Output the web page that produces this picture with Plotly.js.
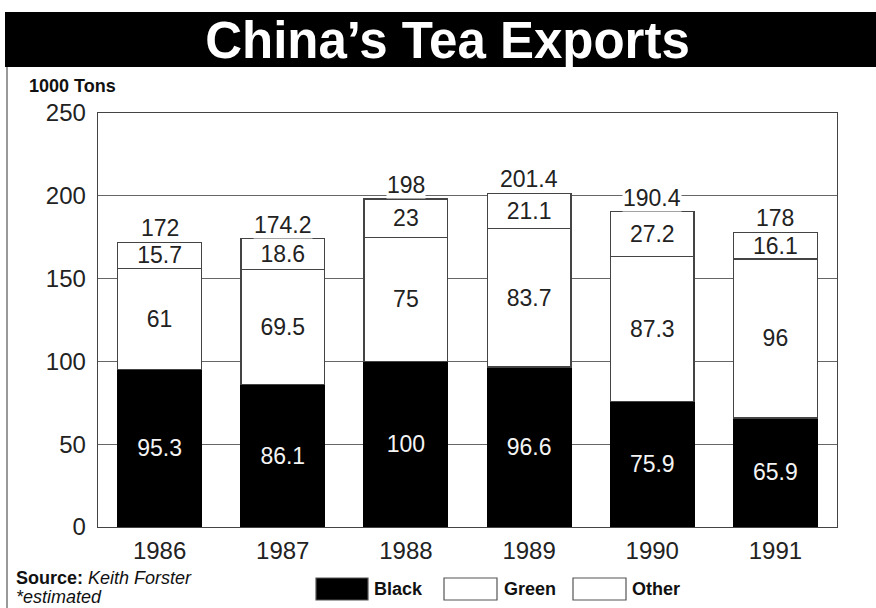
<!DOCTYPE html>
<html>
<head>
<meta charset="utf-8">
<script src="https://cdn.plot.ly/plotly-3.0.1.min.js"></script>
<style>html,body{margin:0;padding:0;background:#fff;}#chart{width:876px;height:608px;}</style>
</head>
<body>
<div id="chart"></div>
<script>
var years = ['1986', '1987', '1988', '1989', '1990', '1991'];
var black = [95.3, 86.1, 100, 96.6, 75.9, 65.9];
var green = [61, 69.5, 75, 83.7, 87.3, 96];
var other = [15.7, 18.6, 23, 21.1, 27.2, 16.1];
var totals = [172, 174.2, 198, 201.4, 190.4, 178];
var yTicks = [0, 50, 100, 150, 200, 250];

var FONT = '"Liberation Sans", Arial, Helvetica, sans-serif';
var NARROW = '"Liberation Sans Narrow", "Liberation Sans", Arial, sans-serif';
var TXT = '#222';

function barTrace(name, vals, fill, line, textColor) {
  return {
    type: 'bar', name: name, x: years, y: vals,
    text: vals.map(String), textposition: 'inside', insidetextanchor: 'middle',
    textangle: 0, constraintext: 'none',
    textfont: {family: FONT, size: 23, color: textColor},
    marker: {color: fill, line: {color: line, width: 1.3}},
    hoverinfo: 'x+y+name'
  };
}

var data = [
  barTrace('Black', black, '#000', '#000', '#f4f4f4'),
  barTrace('Green', green, '#fff', '#444', TXT),
  barTrace('Other', other, '#fff', '#444', TXT)
];

// totals above each stack (x given as category index)
var annotations = years.map(function (yr, i) {
  return {
    x: i, y: totals[i], xref: 'x', yref: 'y', text: String(totals[i]),
    showarrow: false, yanchor: 'bottom', yshift: 0, bgcolor: '#fff',
    borderpad: 0, font: {family: FONT, size: 23, color: TXT}
  };
});

// helpers for paper coordinates from the plot frame
var L = 98, R = 837, T = 113, B = 527;
function px(x) { return (x - L) / (R - L); }
function py(y) { return (B - y) / (B - T); }

annotations.push({
  xref: 'paper', yref: 'paper', x: px(27), y: py(86), xanchor: 'left', yanchor: 'middle',
  text: '<b>1000 Tons</b>', showarrow: false,
  font: {family: NARROW, size: 18, color: '#111'}
});
annotations.push({
  xref: 'paper', yref: 'paper', x: px(14), y: py(578), xanchor: 'left', yanchor: 'middle',
  text: '<b>Source:</b> <i>Keith Forster</i>', showarrow: false,
  font: {family: NARROW, size: 18, color: '#111'}
});
annotations.push({
  xref: 'paper', yref: 'paper', x: px(14), y: py(597), xanchor: 'left', yanchor: 'middle',
  text: '<i>*estimated</i>', showarrow: false,
  font: {family: NARROW, size: 18, color: '#111'}
});

var legendItems = [
  {name: 'Black', fill: '#000', x0: 316, x1: 368, tx: 372},
  {name: 'Green', fill: '#fff', x0: 444, x1: 497, tx: 502},
  {name: 'Other', fill: '#fff', x0: 573, x1: 626, tx: 630}
];

var shapes = [
  {type: 'rect', xref: 'paper', yref: 'paper', x0: px(5), x1: px(876), y0: py(67), y1: py(12),
   fillcolor: '#000', line: {width: 0}, layer: 'below'},
  {type: 'line', xref: 'paper', yref: 'paper', x0: px(7), x1: px(7), y0: py(67), y1: py(608),
   line: {color: '#777', width: 1.5}}
];

legendItems.forEach(function (it) {
  shapes.push({type: 'rect', xref: 'paper', yref: 'paper', x0: px(it.x0), x1: px(it.x1),
    y0: py(600), y1: py(578), fillcolor: it.fill, line: {color: '#555', width: 1.2}});
  annotations.push({xref: 'paper', yref: 'paper', x: px(it.tx), y: py(589), xanchor: 'left',
    yanchor: 'middle', text: '<b>' + it.name + '</b>', showarrow: false,
    font: {family: NARROW, size: 18, color: '#111'}});
});

var layout = {
  width: 876, height: 608,
  margin: {l: L, r: 876 - R, t: T, b: 608 - B, pad: 0},
  paper_bgcolor: '#fff', plot_bgcolor: '#fff',
  barmode: 'stack', bargap: 0.32,
  showlegend: false,
  title: {text: '<b>China\u2019s Tea Exports</b>', x: px(447.5), xanchor: 'center', xref: 'paper',
          y: 1 - 40 / 608, yanchor: 'middle', yref: 'container',
          font: {family: FONT, size: 51, color: '#fff'}},
  xaxis: {type: 'category', categoryarray: years, range: [-0.5, 5.5],
          showgrid: false, showline: true, mirror: true,
          linecolor: '#444', linewidth: 1.3, ticks: '', ticklabelstandoff: 2,
          tickfont: {family: FONT, size: 24, color: TXT}, fixedrange: true},
  yaxis: {range: [0, 250], tickvals: yTicks, ticktext: yTicks.map(String),
          showgrid: true, gridcolor: '#666', gridwidth: 1.2,
          showline: true, mirror: true, linecolor: '#444', linewidth: 1.3,
          ticks: '', ticklabelstandoff: 6, zeroline: false,
          tickfont: {family: FONT, size: 24, color: TXT}, fixedrange: true},
  shapes: shapes,
  annotations: annotations
};

Plotly.newPlot('chart', data, layout, {displayModeBar: false, staticPlot: true});
</script>
</body>
</html>
